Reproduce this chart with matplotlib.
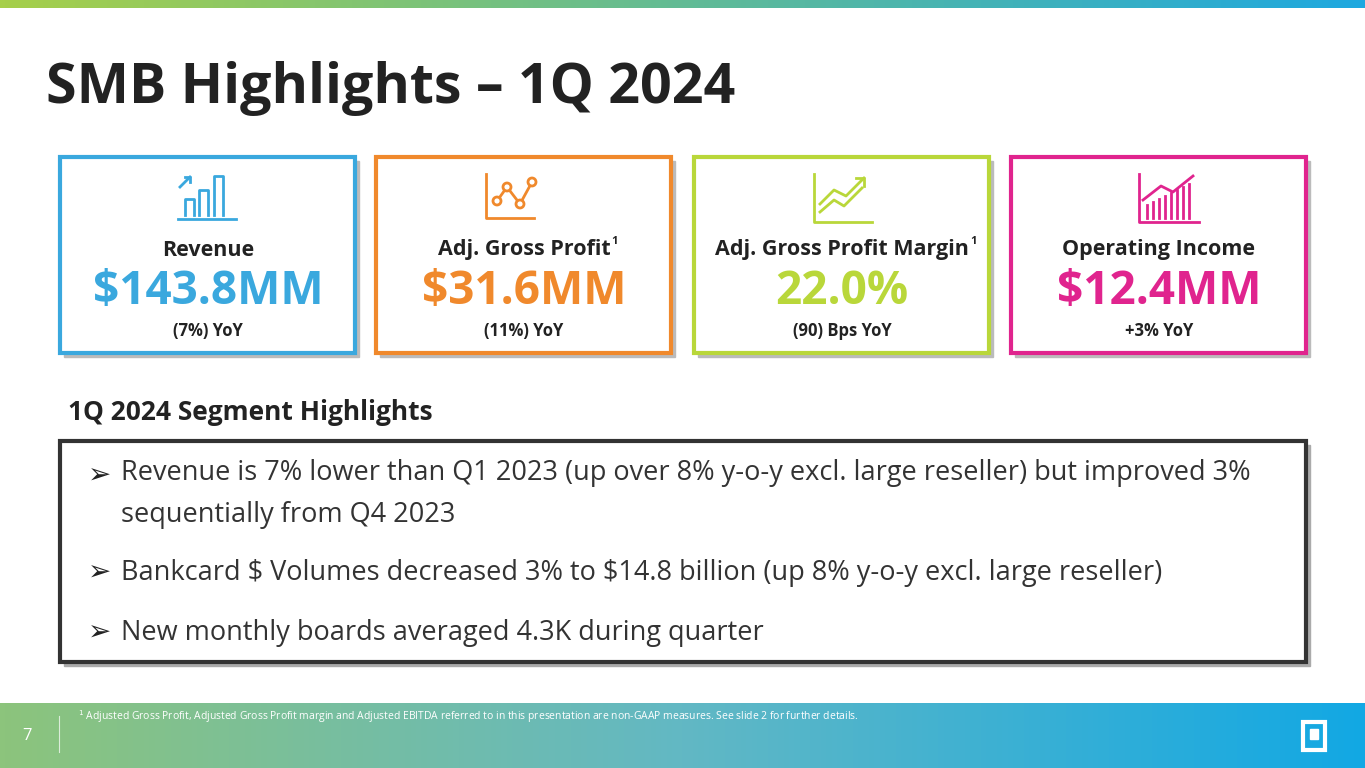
import numpy as np
import matplotlib.pyplot as plt
from matplotlib.patches import Rectangle, Circle
from matplotlib.colors import LinearSegmentedColormap

plt.rcParams['font.family'] = ['Open Sans', 'DejaVu Sans']

card_titles = ['Revenue', 'Adj. Gross Profit', 'Adj. Gross Profit Margin', 'Operating Income']
card_sup = [False, True, True, False]
card_values = ['$143.8MM', '$31.6MM', '22.0%', '$12.4MM']
card_yoy = ['(7%) YoY', '(11%) YoY', '(90) Bps YoY', '+3% YoY']
card_colors = ['#3aa8de', '#f0892c', '#b9d73a', '#e0248e']
card_x = [60, 376, 694, 1011]

bullets = ['Revenue is 7% lower than Q1 2023 (up over 8% y-o-y excl. large reseller) but improved 3%\nsequentially from Q4 2023',
           'Bankcard \\$ Volumes decreased 3% to \\$14.8 billion (up 8% y-o-y excl. large reseller)',
           'New monthly boards averaged 4.3K during quarter']
bullet_y = [476, 573, 633]

fig = plt.figure(figsize=(13.65, 7.68), dpi=100)
ax = fig.add_axes([0, 0, 1, 1])
ax.set_xlim(0, 1365)
ax.set_ylim(768, 0)
ax.axis('off')

# gradient bars
grad = np.linspace(0, 1, 256).reshape(1, -1)
cmap_top = LinearSegmentedColormap.from_list('t', ['#a6cf4a', '#1ea8e0'])
cmap_bot = LinearSegmentedColormap.from_list('b', ['#8cc47c', '#62b8c4', '#12a8e4'])
ax.imshow(grad, extent=[0, 1365, 8, 0], cmap=cmap_top, aspect='auto', zorder=0)
ax.imshow(grad, extent=[0, 1365, 768, 703], cmap=cmap_bot, aspect='auto', zorder=0)

ax.text(46, 88, 'SMB Highlights – 1Q 2024', fontsize=40, fontweight='bold', color='#222222', va='center')

for i in range(4):
    x = card_x[i]
    c = card_colors[i]
    ax.add_patch(Rectangle((x + 4, 161), 295, 196, color='#bbbbbb', zorder=1))
    ax.add_patch(Rectangle((x, 157), 295, 196, facecolor='white', edgecolor=c, lw=3, zorder=2))
    cx = x + 148
    t = ax.text(cx, 250, card_titles[i], fontsize=15.5, fontweight='bold', color='#222222', ha='center', va='center', zorder=3)
    if card_sup[i]:
        fig.canvas.draw()
        bb = t.get_window_extent().transformed(ax.transData.inverted())
        ax.text(bb.x1 + 1, 242, '1', fontsize=8, fontweight='bold', color='#222222', va='center', zorder=3)
    ax.text(cx, 291, card_values[i], fontsize=33, fontweight='bold', color=c, ha='center', va='center', zorder=3)
    ax.text(cx, 331, card_yoy[i], fontsize=12, fontweight='bold', color='#222222', ha='center', va='center', zorder=3)
    # simple icons
    kw = dict(color=c, lw=2, zorder=3)
    if i == 0:
        ax.plot([cx - 30, cx + 28], [219, 219], **kw)
        for bx, top in [(cx - 23, 199), (cx - 9, 190), (cx + 6, 176)]:
            ax.plot([bx, bx, bx + 9, bx + 9], [215, top, top, 215], **kw)
        ax.plot([cx - 28, cx - 18], [187, 177], **kw)
        ax.plot([cx - 23, cx - 18, cx - 18], [177, 177, 182], **kw)
    elif i == 1:
        ax.plot([cx - 38, cx - 38, cx + 10], [174, 218, 218], **kw)
        for px, py in [(cx - 27, 201), (cx - 17, 187), (cx - 4, 204), (cx + 8, 182)]:
            ax.add_patch(Circle((px, py), 4, facecolor='white', edgecolor=c, lw=2, zorder=4))
        ax.plot([cx - 27, cx - 17, cx - 4, cx + 8], [201, 187, 204, 182], **kw)
    elif i == 2:
        ax.plot([cx - 28, cx - 28, cx + 30], [174, 222, 222], **kw)
        ax.plot([cx - 22, cx - 8, cx + 2, cx + 20], [212, 200, 206, 188], **kw)
        ax.plot([cx - 22, cx - 8, cx + 4, cx + 22], [204, 190, 196, 178], **kw)
        ax.plot([cx + 14, cx + 22, cx + 22], [178, 178, 186], **kw)
    else:
        ax.plot([cx - 20, cx - 20, cx + 40], [174, 222, 222], **kw)
        for k in range(8):
            ax.plot([cx - 12 + 6 * k] * 2, [218, 205 - 3 * k], **kw)
        ax.plot([cx - 16, cx + 2, cx + 14, cx + 34], [200, 186, 192, 176], **kw)

ax.text(68, 413, '1Q 2024 Segment Highlights', fontsize=19, fontweight='bold', color='#222222', va='center')
ax.add_patch(Rectangle((64, 445), 1246, 221, color='#aaaaaa', zorder=1))
ax.add_patch(Rectangle((60, 441), 1246, 221, facecolor='white', edgecolor='#333333', lw=3, zorder=2))
for y in bullet_y:
    ax.text(88, y, '➢', fontsize=20, color='#222222', va='center', family=['DejaVu Sans'], zorder=3)
ax.text(121, 459, bullets[0], fontsize=19.5, color='#333333', va='top', linespacing=1.65, zorder=3)
ax.text(121, bullet_y[1], bullets[1], fontsize=19.5, color='#333333', va='center', zorder=3)
ax.text(121, bullet_y[2], bullets[2], fontsize=19.5, color='#333333', va='center', zorder=3)

ax.text(22, 736, '7', fontsize=12, color='white', va='center')
ax.plot([59, 59], [716, 752], color='white', lw=0.8, alpha=0.7)
ax.text(78, 717, '$^1$ Adjusted Gross Profit, Adjusted Gross Profit margin and Adjusted EBITDA referred to in this presentation are non-GAAP measures. See slide 2 for further details.',
        fontsize=7.5, color='white', va='center')
# logo
ax.add_patch(Rectangle((1303, 722), 22, 28, facecolor='none', edgecolor='white', lw=3))
ax.add_patch(Rectangle((1310, 729), 8, 10, color='white'))

fig.savefig('out.png', dpi=100)
